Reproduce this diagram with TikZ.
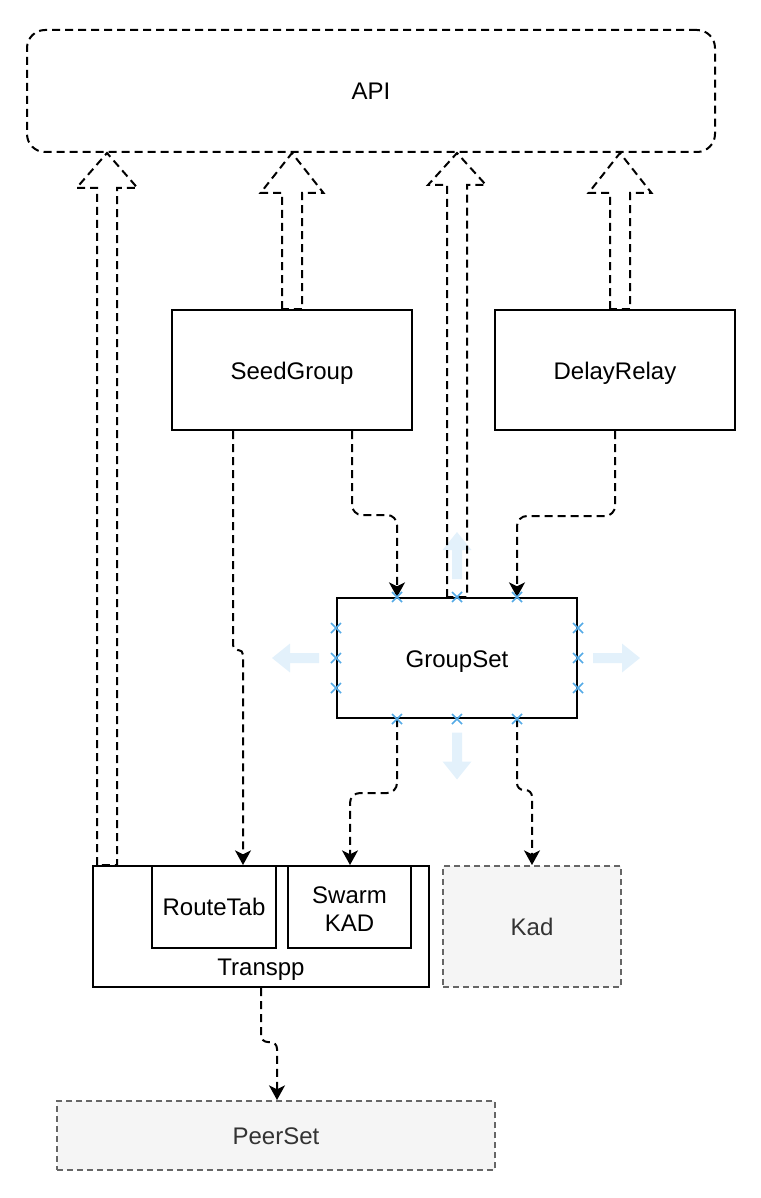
\documentclass[tikz,border=0pt]{standalone}
\usepackage{fontspec}
\setmainfont{Liberation Sans}
\usetikzlibrary{arrows.meta}
\definecolor{hoverblue}{RGB}{227,241,251}
\definecolor{markblue}{RGB}{84,170,230}
\definecolor{boxgray}{RGB}{245,245,245}
\definecolor{edgegray}{RGB}{102,102,102}
\definecolor{txtgray}{RGB}{51,51,51}

\begin{document}
\begin{tikzpicture}[x=0.75pt,y=-0.75pt,
	font=\fontsize{18}{20.5}\selectfont,
	frame/.style={draw,line width=1.5pt,inner sep=0pt},
	box/.style={frame,minimum width=180pt,minimum height=90pt,text height=18pt,text depth=4pt},
	ghost/.style={draw=edgegray,fill=boxgray,text=txtgray,dash pattern=on 4.5pt off 3pt,line width=1.5pt,inner sep=0pt,text height=17pt,text depth=4pt},
	link/.style={line width=1.5pt,dash pattern=on 6pt off 3.75pt,-{Stealth[length=11pt,width=12pt,inset=3pt]}},
	lift/.style={line width=1.5pt,dash pattern=on 6pt off 3.75pt,line join=miter}]
	\tikzset{hovermark/.pic={\draw[markblue,line width=1.1pt] (-5,-5) -- (5,5) (-5,5) -- (5,-5);},
		hoverarrow/.pic={\fill[hoverblue] (0,-23.5) -- (14.5,-5.5) -- (5,-5.5) -- (5,23.5) -- (-5,23.5) -- (-5,-5.5) -- (-14.5,-5.5) -- cycle;}}
	\useasboundingbox (0,0) rectangle (760,1198);

	\node[draw,line width=1.5pt,dash pattern=on 6pt off 3.75pt,rounded corners=13.5pt,minimum width=516pt,minimum height=91.5pt,text height=17pt,text depth=4pt] (api) at (371,91) {API};
	\node[box] (seed) at (292,370) {SeedGroup};
	\node[box] (delay) at (615,370) {DelayRelay};
	\node[box] (group) at (457,658) {GroupSet};
	\node[frame,minimum width=252pt,minimum height=90.75pt] (transpp) at (261,926.5) {};
	\node (transpplbl) at (261,969.5) {Transpp};
	\node[frame,minimum width=93pt,minimum height=61.5pt] (route) at (214,907) {RouteTab};
	\node[frame,minimum width=92.25pt,minimum height=61.5pt] (swarm) at (349.5,907) {};
	\node[align=center] (swarmlbl) at (349.5,909) {Swarm\\KAD};
	\node[ghost,minimum width=133.5pt,minimum height=90.75pt] (kad) at (532,926.5) {Kad};
	\node[ghost,minimum width=328.5pt,minimum height=51.75pt] (peer) at (276,1135.5) {PeerSet};

	% hover hints round GroupSet
	\pic at (457,555.5) {hoverarrow};
	\pic[rotate=90] at (295.5,658) {hoverarrow};
	\pic[rotate=-90] at (616.5,658) {hoverarrow};
	\pic[rotate=180] at (457,756) {hoverarrow};

	% hollow arrows up to the API
	\foreach \src/\cx/\yh/\hw in {transpp/107/188/30.5,seed/292/193/31.5,group/457/185/29,delay/620/193/31.5}
		\draw[lift] (\src.north -| \cx-10,0) -- (\cx-10,\yh) -- (\cx-\hw,\yh) -- (api.south -| \cx,0)
			-- (\cx+\hw,\yh) -- (\cx+10,\yh) -- (\src.north -| \cx+10,0) -- cycle;

	\draw[link,rounded corners=7.5pt] (seed.south -| 352,0) -- (352,515) -- (397,515) -- (group.north -| 397,0);
	\draw[link,rounded corners=7.5pt] (delay.south) -- (615,516) -- (517,516) -- (group.north -| 517,0);
	\draw[link,rounded corners=3.5pt] (seed.south -| 233,0) -- (233,650) -- (243,650) -- (route.north -| 243,0);
	\draw[link,rounded corners=7.5pt] (group.south -| 397,0) -- (397,793) -- (350,793) -- (swarm.north -| 350,0);
	\draw[link,rounded corners=5pt] (group.south -| 517,0) -- (517,790) -- (532,790) -- (kad.north);
	\draw[link,rounded corners=5pt] (transpp.south) -- (261,1042) -- (277,1042) -- (peer.north -| 277,0);

	\foreach \mx in {397,457,517} {
		\pic at (group.north -| \mx,0) {hovermark};
		\pic at (group.south -| \mx,0) {hovermark};
	}
	\foreach \my in {628,658,688} {
		\pic at (group.west |- 0,\my) {hovermark};
		\pic at (group.east |- 0,\my) {hovermark};
	}
\end{tikzpicture}
\end{document}
